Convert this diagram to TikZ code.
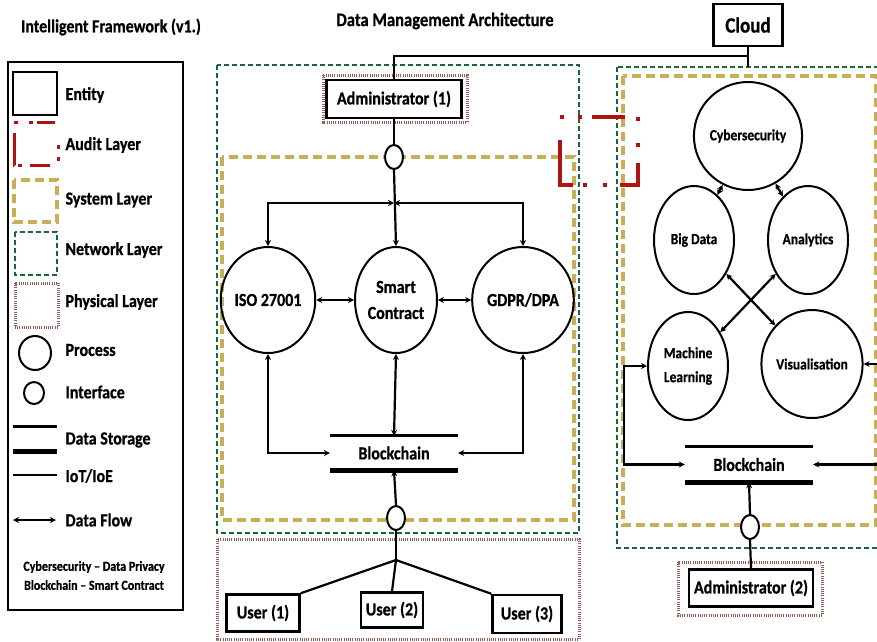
\documentclass[tikz,border=0pt]{standalone}
\usepackage{graphicx}
\usepackage{fontspec}
\setmainfont{Carlito}[BoldFeatures={FakeBold=0.8}]
\usetikzlibrary{arrows.meta,shapes.geometric}
\definecolor{netgreen}{RGB}{20,105,55}
\definecolor{sysyellow}{RGB}{200,175,85}
\definecolor{physbrown}{RGB}{150,95,80}
\definecolor{auditred}{RGB}{175,20,20}
% slightly tall lettering
\newcommand{\vt}[1]{\scalebox{1}[1.15]{#1}}

\begin{document}
\begin{tikzpicture}[x=1pt,y=-1pt,
  every node/.style={font=\fontsize{16}{26}\selectfont\bfseries},
  wire/.style={line width=2.2pt},
  flow/.style={wire,{Stealth[length=6pt,width=6pt]}-{Stealth[length=6pt,width=6pt]}},
  toflow/.style={wire,-{Stealth[length=6pt,width=6pt]}},
  entity/.style={draw,line width=2.5pt,inner sep=0pt,fill=white},
  process/.style={draw,ellipse,line width=2pt,inner sep=0pt,minimum width=82pt,minimum height=106pt,align=center},
  smallproc/.style={process,minimum width=80pt,minimum height=108pt,font=\fontsize{13.5}{24}\selectfont\bfseries},
  iface/.style={draw,ellipse,line width=2pt,inner sep=0pt,minimum width=18pt,minimum height=24pt,fill=white},
  store/.style={inner sep=0pt,minimum width=128pt,minimum height=34pt},
  netlayer/.style={draw=netgreen,line width=2.2pt,dash pattern=on 5pt off 3pt},
  syslayer/.style={draw=sysyellow,line width=3.2pt,dash pattern=on 9pt off 5pt},
  phylayer/.style={draw=physbrown,line width=3pt,dash pattern=on 1pt off 1.2pt},
  auditlayer/.style={draw=auditred,line width=3.5pt,
    dash pattern=on 4pt off 14pt on 4pt off 10pt on 33pt off 13pt on 4pt off 22pt
                 on 4pt off 16pt on 40pt off 13pt on 4pt off 16pt on 4pt off 10pt on 58pt off 23pt},
  auditkey/.style={draw=auditred,line width=3pt,
    dash pattern=on 4pt off 11pt on 4pt off 4pt on 18pt off 26pt on 4pt off 8pt
                 on 4pt off 12pt on 20pt off 8pt on 4pt off 4pt on 32pt off 11pt},
  legtext/.style={anchor=west},
]
\useasboundingbox (0,0) rectangle (877,641);
\fill[white] (0,0) rectangle (877,641);

% ---------- titles ----------
\node (ttlA) at (111,27) {\vt{Intelligent Framework (v1.)}};
\node[font=\fontsize{16.6}{20}\selectfont\bfseries] (ttlB) at (445,21) {\vt{Data Management Architecture}};

% ---------- legend ----------
\draw[line width=2.5pt] (8,62) rectangle (183,610);
\node[entity,minimum width=44pt,minimum height=43pt] (lgEntity) at (35,93.5) {};
\draw[auditkey] (14,122) -- (58,122) -- (58,165) -- (14,165) -- cycle;
\draw[syslayer] (14,180) rectangle (57,222);
\draw[netlayer] (15,232) rectangle (57,275);
\draw[phylayer] (15,283) rectangle (58,327);
\node[draw,ellipse,line width=2pt,minimum width=32pt,minimum height=34pt,inner sep=0pt] (lgProc) at (35,353) {};
\node[draw,ellipse,line width=2pt,minimum width=20pt,minimum height=22pt,inner sep=0pt] (lgIf) at (34,393) {};
\draw[line width=3pt] (13,426) -- (57,426);
\draw[line width=5pt] (13,451) -- (57,451);
\draw[line width=2.5pt] (13,475) -- (57,475);
\draw[flow] (13,520) -- (56,520);
\node[legtext] (lt1) at (62,95) {\vt{Entity}};
\node[legtext] (lt2) at (62,145) {\vt{Audit Layer}};
\node[legtext] (lt3) at (62,200) {\vt{System Layer}};
\node[legtext] (lt4) at (62,250) {\vt{Network Layer}};
\node[legtext] (lt5) at (62,302) {\vt{Physical Layer}};
\node[legtext] (lt6) at (62,350) {\vt{Process}};
\node[legtext] (lt7) at (62,392) {\vt{Interface}};
\node[legtext] (lt8) at (62,440) {\vt{Data Storage}};
\node[legtext] (lt9) at (62,476) {\vt{IoT/IoE}};
\node[legtext] (lt10) at (62,520) {\vt{Data Flow}};
\node[font=\fontsize{12}{14}\selectfont\bfseries] (note1) at (94,567) {\vt{Cybersecurity – Data Privacy}};
\node[font=\fontsize{12}{14}\selectfont\bfseries] (note2) at (94,585) {\vt{Blockchain – Smart Contract}};

% ---------- layers ----------
\draw[netlayer] (217,65) rectangle (579,533);
\draw[syslayer] (222,157) rectangle (574,520);
\draw[phylayer] (217,539) rectangle (579,639);
\draw[netlayer] (617,67) rectangle (895,548);
\draw[syslayer] (623,76) rectangle (876,525);
\draw[auditlayer] (560,117) -- (638,117) -- (638,185) -- (560,185) -- cycle;

% ---------- cloud link ----------
\node[entity,minimum width=69pt,minimum height=42pt,font=\fontsize{19}{21}\selectfont\bfseries] (cloud) at (748,25) {\vt{Cloud}};
\coordinate (cj) at (748,56);
\coordinate (cnet) at (748,67);

% ---------- left: data management ----------
\draw[phylayer] (323,75) rectangle (467,122);
\node[entity,minimum width=135pt,minimum height=38pt] (ad1) at (394,99) {\vt{Administrator (1)}};
\draw[wire] (cloud.south) -- (cnet);
\draw[wire] (ad1.north) |- (cj);

\node[iface] (if1) at (394,157) {};
\coordinate (j1) at (394,203);
\node[process] (iso) at (268,300) {\vt{ISO 27001}};
\node[process] (sc) at (396,300) {\vt{Smart}\\\vt{Contract}};
\node[process] (gd) at (523,300) {\vt{GDPR/DPA}};
\node[store] (bcL) at (394,453) {\vt{Blockchain}};
\draw[line width=3pt] (bcL.north west) -- (bcL.north east);
\draw[line width=5pt] (bcL.south west) -- (bcL.south east);
\node[iface] (if2) at (396,518) {};
\coordinate (j2) at (396,560);

\node[entity,minimum width=73pt,minimum height=37pt] (u1) at (263,613) {\vt{User (1)}};
\node[entity,minimum width=62pt,minimum height=35pt] (u2) at (392,610) {\vt{User (2)}};
\node[entity,minimum width=69pt,minimum height=38pt] (u3) at (527,614) {\vt{User (3)}};

\draw[wire] (ad1.south) -- (if1.north);
\draw[toflow] (if1.south) -- (sc.north);
\draw[flow] (iso.north) |- (j1);
\draw[flow] (gd.north) |- (j1);
\draw[flow] (iso.east) -- (sc.west);
\draw[flow] (sc.east) -- (gd.west);
\draw[flow] (iso.south) |- (bcL.west);
\draw[flow] (gd.south) |- (bcL.east);
\draw[flow] (sc.south) -- (bcL.north);
\draw[toflow] (if2.north) -- (bcL.south);
\draw[wire] (if2.south) -- (j2);
\draw[wire] (j2) -- (u1.north east);
\draw[wire] (j2) -- (u2.north);
\draw[wire] (j2) -- (u3.north west);

% ---------- right: cloud services ----------
\node[smallproc] (cy) at (748,136) {\vt{Cybersecurity}};
\node[smallproc] (bd) at (694,240) {\vt{Big Data}};
\node[smallproc] (an) at (808,240) {\vt{Analytics}};
\node[smallproc] (ml) at (688,366) {\vt{Machine}\\\vt{Learning}};
\node[smallproc] (vi) at (812,364) {\vt{Visualisation}};
\node[store,minimum height=35pt] (bcR) at (749,464.5) {\vt{Blockchain}};
\draw[line width=3pt] (bcR.north west) -- (bcR.north east);
\draw[line width=5pt] (bcR.south west) -- (bcR.south east);
\node[iface] (if3) at (750,527) {};
\draw[phylayer] (678,562) rectangle (822,615);
\node[entity,minimum width=124pt,minimum height=37pt] (ad2) at (751,588) {\vt{Administrator (2)}};

\draw[flow] (cy) -- (bd);
\draw[flow] (cy) -- (an);
\draw[flow] (bd) -- (vi);
\draw[flow] (an) -- (ml);
\draw[flow] (ml.west) -- ++(-23,0) |- (bcR.west);
\draw[flow] (vi.east) -- ++(21,0) |- (bcR.east);
\draw[toflow] (if3.north) -- (bcR.south);
\draw[wire] (if3.south) -- (ad2.north);
\end{tikzpicture}
\end{document}
